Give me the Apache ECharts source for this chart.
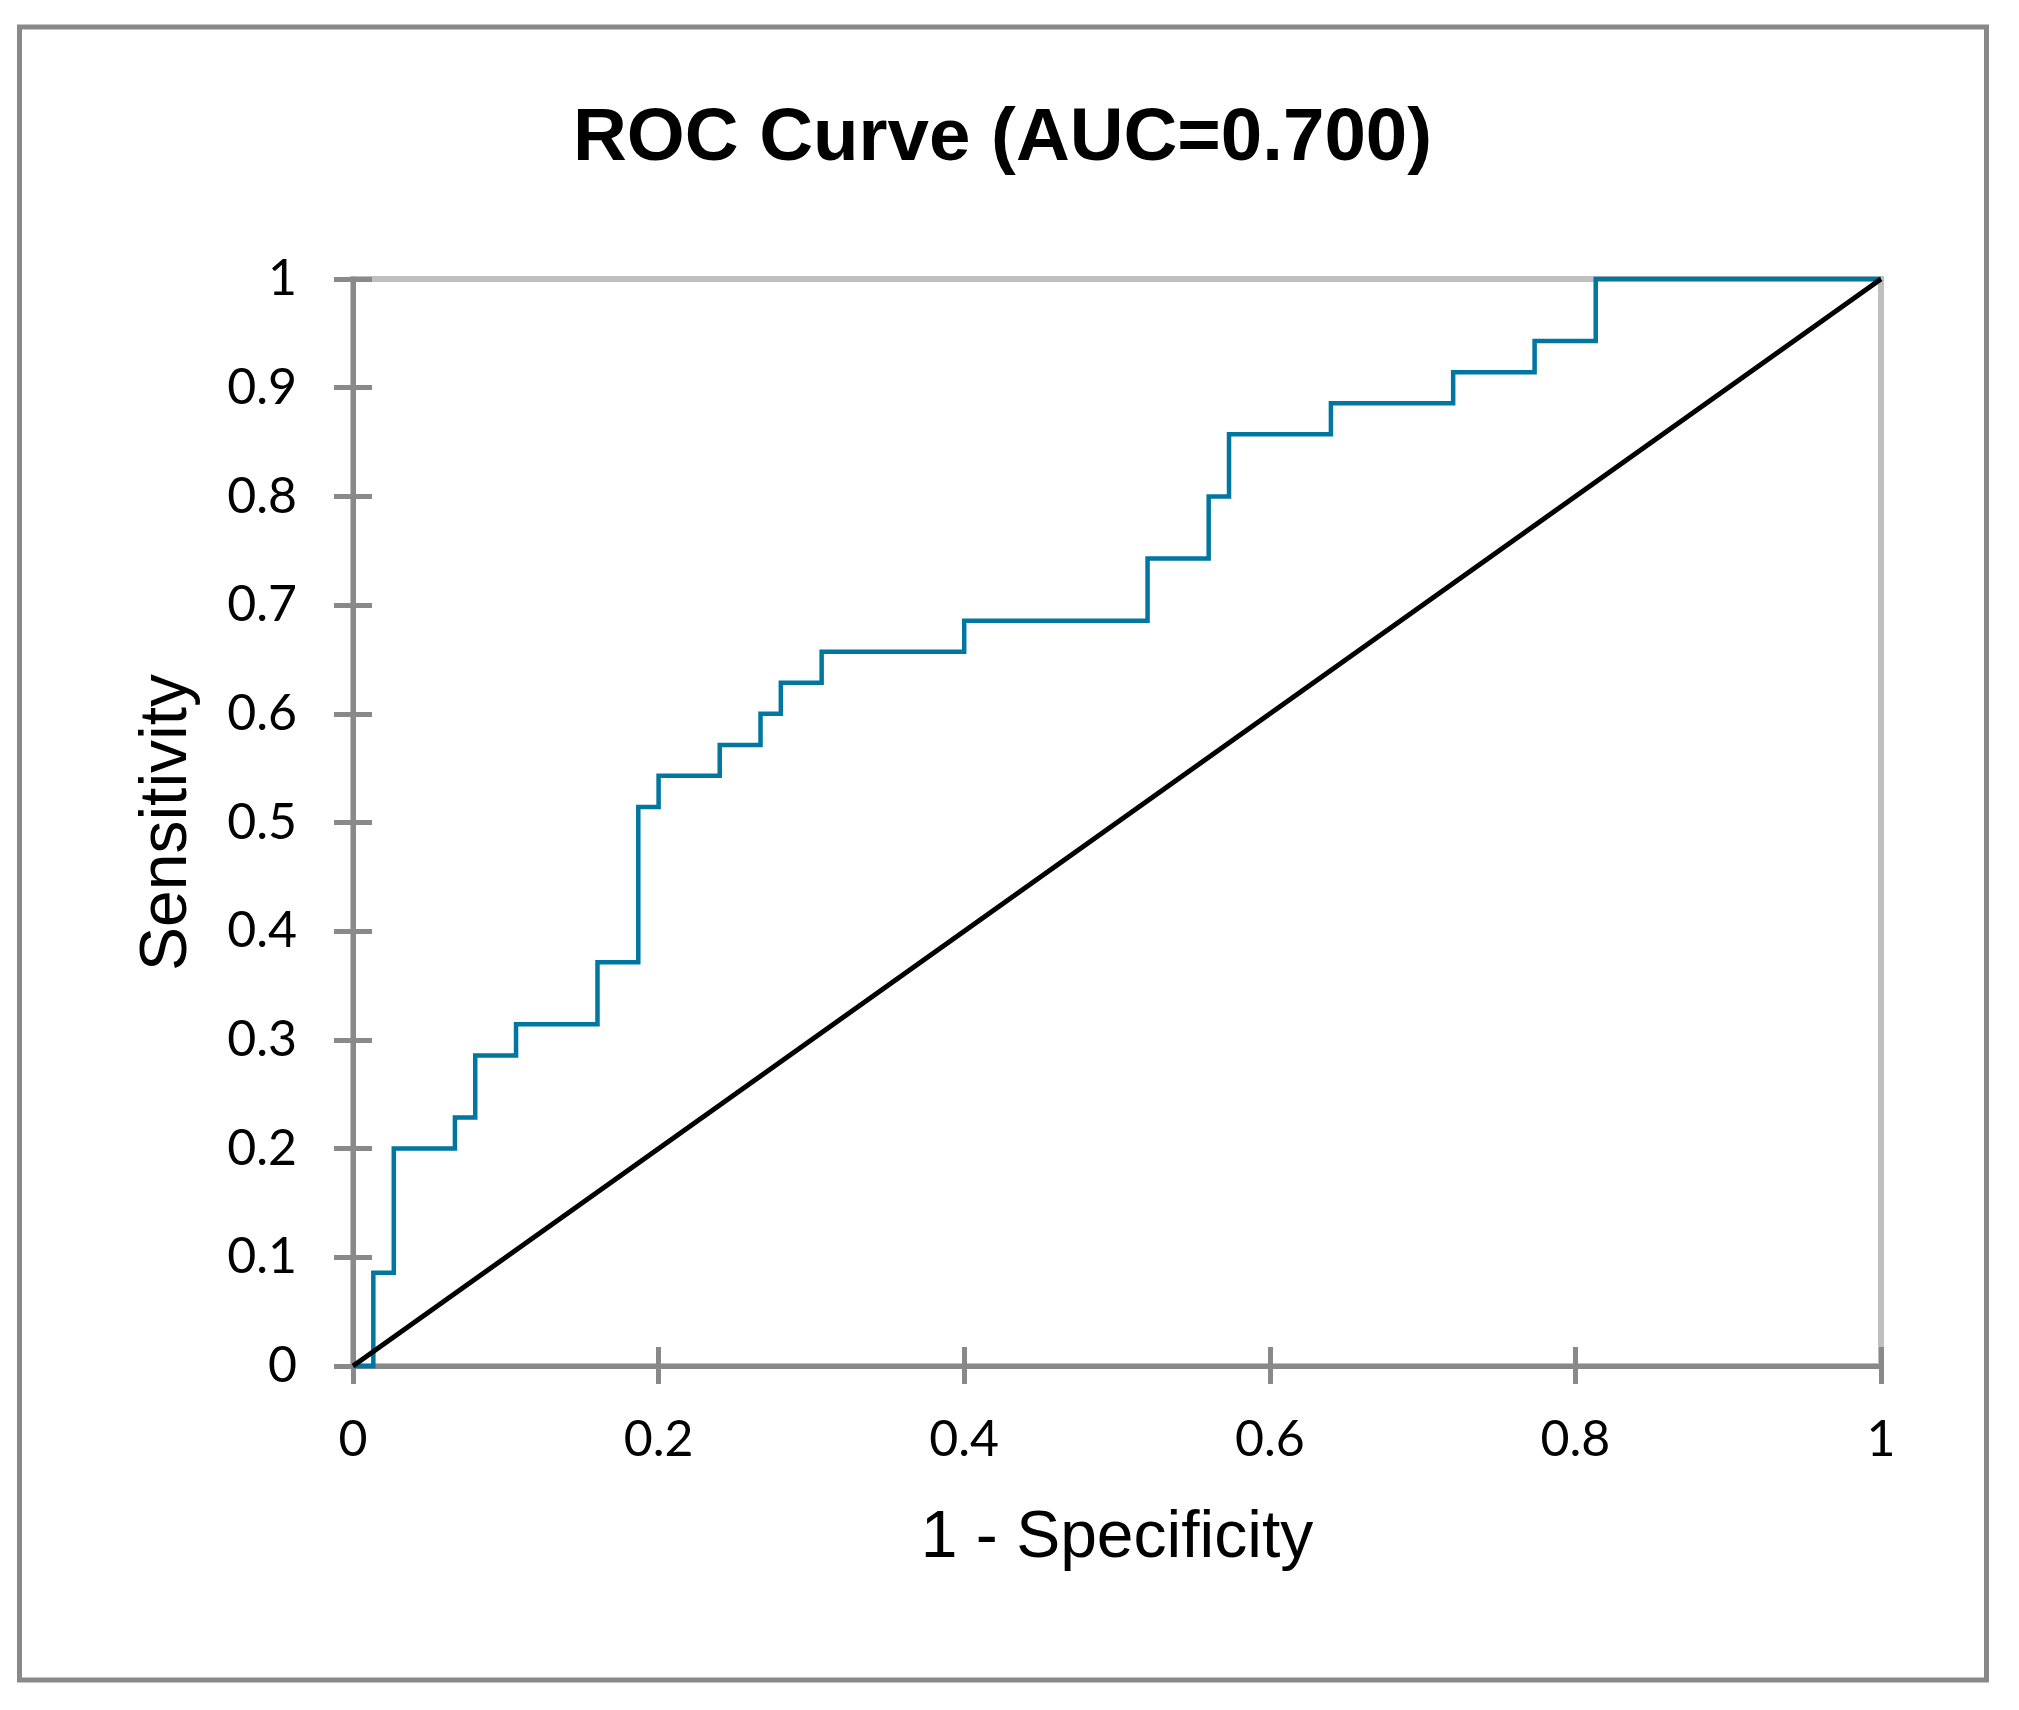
<!DOCTYPE html>
<html>
<head>
<meta charset="utf-8">
<script src="https://cdn.jsdelivr.net/npm/echarts@6/dist/echarts.min.js"></script>
<style>
html,body{margin:0;padding:0;background:#fff;}
#chart{width:2019px;height:1710px;}
</style>
</head>
<body>
<div id="chart"></div>
<script>
// ROC points (1 - Specificity, Sensitivity)
const fprValues = [0, 0.0133, 0.0267, 0.0667, 0.08, 0.1067, 0.16, 0.1867, 0.2, 0.24, 0.2667, 0.28, 0.3067, 0.4, 0.52, 0.56, 0.5733, 0.64, 0.72, 0.7733, 0.8133, 1];
const tprValues = [0, 0.0857, 0.2, 0.2286, 0.2857, 0.3143, 0.3714, 0.5143, 0.5429, 0.5714, 0.6, 0.6286, 0.6571, 0.6857, 0.7429, 0.8, 0.8571, 0.8857, 0.9143, 0.9429, 1, 1];
const diagonalX = [0, 1];
const diagonalY = [0, 1];
const xTicks = [0, 0.2, 0.4, 0.6, 0.8, 1];
const yTicks = [0, 0.1, 0.2, 0.3, 0.4, 0.5, 0.6, 0.7, 0.8, 0.9, 1];
const titleText = 'ROC Curve (AUC=0.700)';
const xName = '1 - Specificity';
const yName = 'Sensitivity';

const rocData = fprValues.map((x, i) => [x, tprValues[i]]);
const diagData = diagonalX.map((x, i) => [x, diagonalY[i]]);

const chart = echarts.init(document.getElementById('chart'), null, {renderer: 'canvas'});
const axisGray = '#898989';
const labelFont = {fontFamily: 'Lato', fontSize: 50, color: '#000'};

const xInterval = xTicks[1] - xTicks[0];
const yInterval = yTicks[1] - yTicks[0];

chart.setOption({
  backgroundColor: '#fff',
  animation: false,
  title: {
    text: titleText,
    left: 568,
    top: 97,
    textStyle: {fontFamily: 'Liberation Sans, Arial', fontWeight: 'bold', fontSize: 74.5, color: '#000'}
  },
  graphic: [{
    type: 'rect',
    shape: {x: 19.5, y: 27, width: 1967, height: 1653},
    style: {fill: null, stroke: axisGray, lineWidth: 5},
    silent: true
  }],
  grid: {
    left: 353, top: 279, width: 1528, height: 1087,
    show: true, borderColor: '#bfbfbf', borderWidth: 6, backgroundColor: 'transparent'
  },
  xAxis: [{
    type: 'value', min: xTicks[0], max: xTicks[xTicks.length - 1], interval: xInterval,
    position: 'bottom',
    name: xName, nameLocation: 'middle', nameGap: 140,
    nameTextStyle: {fontFamily: 'Liberation Sans, Arial', fontSize: 66, color: '#000'},
    axisLine: {show: true, lineStyle: {color: axisGray, width: 5}},
    axisTick: {show: true, inside: false, length: 18, lineStyle: {color: axisGray, width: 5}},
    axisLabel: Object.assign({margin: 74, verticalAlign: 'middle', formatter: v => String(+v.toFixed(1))}, labelFont),
    splitLine: {show: false}
  }, {
    type: 'value', min: xTicks[0], max: xTicks[xTicks.length - 1], interval: xInterval,
    position: 'bottom', offset: 0,
    axisLine: {show: false},
    axisTick: {show: true, inside: true, length: 19, lineStyle: {color: axisGray, width: 5}},
    axisLabel: {show: false},
    splitLine: {show: false}
  }],
  yAxis: [{
    type: 'value', min: yTicks[0], max: yTicks[yTicks.length - 1], interval: yInterval,
    position: 'left',
    name: yName, nameLocation: 'middle', nameGap: 152, nameRotate: 90,
    nameTextStyle: {fontFamily: 'Liberation Sans, Arial', fontSize: 66, color: '#000'},
    axisLine: {show: true, lineStyle: {color: axisGray, width: 5}},
    axisTick: {show: true, inside: false, length: 19, lineStyle: {color: axisGray, width: 5}},
    axisLabel: Object.assign({margin: 56, formatter: v => String(+v.toFixed(1))}, labelFont),
    splitLine: {show: false}
  }, {
    type: 'value', min: yTicks[0], max: yTicks[yTicks.length - 1], interval: yInterval,
    position: 'left', offset: 0,
    axisLine: {show: false},
    axisTick: {show: true, inside: true, length: 19, lineStyle: {color: axisGray, width: 5}},
    axisLabel: {show: false},
    splitLine: {show: false}
  }],
  series: [{
    name: 'ROC',
    type: 'line',
    step: 'end',
    data: rocData,
    xAxisIndex: 0, yAxisIndex: 0,
    symbol: 'none',
    clip: false,
    lineStyle: {color: '#0076A0', width: 4.5, join: 'miter', cap: 'butt'},
    z: 3
  }, {
    name: 'Diagonal',
    type: 'line',
    data: diagData,
    xAxisIndex: 0, yAxisIndex: 0,
    symbol: 'none',
    clip: false,
    lineStyle: {color: '#000', width: 5},
    z: 4
  }]
});
</script>
</body>
</html>
